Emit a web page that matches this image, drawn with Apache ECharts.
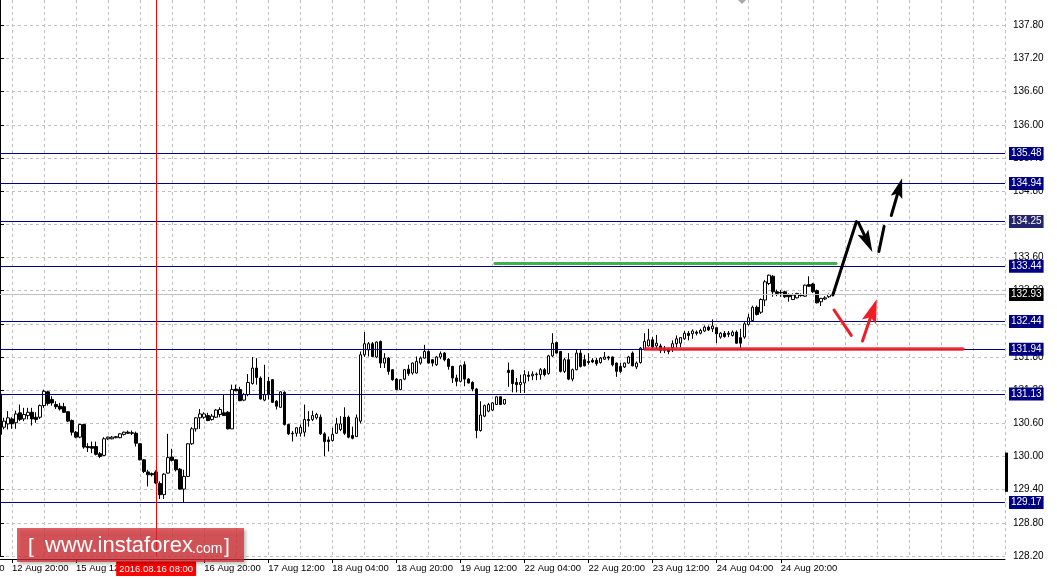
<!DOCTYPE html>
<html>
<head>
<meta charset="utf-8">
<script src="https://cdn.jsdelivr.net/npm/echarts@6/dist/echarts.min.js"></script>
<style>
html,body{margin:0;padding:0;background:#fff;}
#c{width:1057px;height:579px;}
</style>
</head>
<body>
<div id="c"></div>
<script>
// ---- categories (hourly bars, weekends skipped) ----
const dayNames = ['12 Aug','15 Aug','16 Aug','17 Aug','18 Aug','19 Aug','22 Aug','23 Aug','24 Aug','25 Aug','26 Aug','29 Aug'];
const firstHour = 17;
const categoryCount = 252;
const categories = [];
for (let d = 0; categories.length < categoryCount; d++) {
  for (let h = (d === 0 ? firstHour : 0); h < 24 && categories.length < categoryCount; h++) {
    categories.push(dayNames[d] + ' ' + String(h).padStart(2, '0') + ':00');
  }
}

// ---- OHLC values ----
const openVals = [
131.13,130.53,130.59,130.68,130.61,130.79,130.68,130.74,130.80,130.71,
130.71,130.92,131.17,131.03,130.94,130.91,130.90,130.81,130.65,130.44,
130.35,130.58,130.18,130.18,130.18,130.05,130.02,130.32,130.32,130.34,
130.34,130.40,130.44,130.43,130.42,130.23,129.94,129.72,129.69,129.72,
129.51,129.31,129.70,129.99,129.94,129.77,129.41,129.64,130.23,130.50,
130.70,130.71,130.74,130.67,130.71,130.76,130.79,130.80,130.50,131.22,
131.21,131.02,131.12,131.32,131.60,131.42,131.02,131.36,131.39,131.00,
130.89,131.16,130.58,130.42,130.42,130.42,130.44,130.67,130.67,130.70,
130.71,130.41,130.30,130.29,130.42,130.49,130.71,130.71,130.38,130.36,
130.64,131.84,131.93,132.04,131.80,132.08,131.69,131.78,131.57,131.40,
131.21,131.40,131.58,131.51,131.51,131.69,131.78,131.90,131.75,131.66,
131.80,131.87,131.76,131.63,131.42,131.36,131.66,131.40,131.34,131.22,
130.47,130.73,130.82,130.84,130.94,131.08,130.95,131.56,131.56,131.34,
131.30,131.33,131.47,131.46,131.49,131.48,131.57,131.50,131.82,132.06,
131.90,131.54,131.75,131.40,131.57,131.87,131.75,131.72,131.74,131.74,
131.70,131.76,131.80,131.80,131.69,131.63,131.62,131.69,131.87,131.62,
131.70,131.94,132.00,132.11,132.00,132.00,131.96,131.94,131.97,132.04,
132.05,132.13,132.23,132.22,132.25,132.23,132.27,132.34,132.31,132.33,
132.16,132.23,132.23,132.19,132.25,132.15,132.16,132.39,132.46,132.70,
132.61,132.83,133.13,133.26,132.98,132.97,132.98,132.92,132.84,132.87,
132.92,132.90,133.11,133.12,133.00,132.80,132.85,132.89
];
const highVals = [
131.14,130.70,130.82,130.71,130.83,130.94,130.88,130.88,130.88,130.80,
130.94,131.21,131.19,131.09,131.00,130.97,130.97,130.82,130.67,130.46,
130.59,130.59,130.24,130.27,130.27,130.08,130.35,130.36,130.37,130.37,
130.42,130.45,130.47,130.47,130.45,130.24,129.95,129.76,129.71,129.75,
129.55,129.70,130.41,130.14,129.95,129.79,129.76,130.24,130.53,130.71,
130.86,130.80,130.79,130.77,130.86,130.89,131.13,130.82,131.30,131.30,
131.26,131.15,131.49,131.80,131.78,131.45,131.66,131.44,131.40,131.02,
131.18,131.18,130.59,130.46,130.53,130.58,130.94,130.82,130.83,130.79,
130.76,130.44,130.36,130.52,130.70,130.73,130.89,130.74,130.54,130.76,
131.90,132.25,132.07,132.07,132.08,132.10,131.87,131.80,131.58,131.42,
131.40,131.58,131.66,131.70,131.81,131.81,132.02,131.92,131.76,131.82,
131.90,131.89,131.78,131.64,131.48,131.66,131.72,131.42,131.36,131.24,
131.00,130.94,130.97,130.98,131.09,131.09,131.04,131.70,131.57,131.42,
131.48,131.56,131.54,131.54,131.52,131.60,131.60,131.84,132.23,132.08,
131.91,131.78,131.87,131.59,131.93,131.93,131.84,131.87,131.78,131.78,
131.80,131.89,131.82,131.81,131.70,131.69,131.70,131.82,131.90,131.72,
131.98,132.23,132.31,132.16,132.20,132.04,132.00,131.97,132.10,132.19,
132.16,132.27,132.27,132.30,132.28,132.31,132.37,132.37,132.48,132.34,
132.25,132.27,132.27,132.28,132.28,132.31,132.43,132.58,132.73,132.73,
132.86,133.19,133.29,133.28,133.02,133.01,133.00,132.95,132.95,132.96,
132.95,133.11,133.26,133.14,133.02,132.87,132.90,132.95
];
const lowVals = [
130.35,130.49,130.49,130.50,130.50,130.64,130.64,130.67,130.56,130.61,
130.68,130.88,130.92,130.92,130.86,130.83,130.79,130.62,130.38,130.33,
130.33,130.14,130.08,130.06,130.02,129.97,130.01,130.30,130.31,130.33,
130.33,130.38,130.41,130.39,130.18,129.93,129.70,129.46,129.64,129.50,
129.23,129.23,129.69,129.91,129.73,129.40,129.17,129.63,130.21,130.45,
130.50,130.68,130.64,130.65,130.70,130.71,130.74,130.49,130.50,131.18,
131.00,131.00,131.09,131.30,131.30,131.03,131.00,131.03,130.97,130.85,
130.88,130.56,130.39,130.27,130.36,130.36,130.36,130.54,130.64,130.67,
130.39,130.01,130.09,130.27,130.41,130.46,130.39,130.33,130.31,130.36,
130.60,131.80,131.81,131.80,131.78,131.60,131.60,131.48,131.37,131.20,
131.20,131.38,131.46,131.48,131.50,131.66,131.77,131.68,131.63,131.64,
131.76,131.72,131.57,131.33,131.27,131.34,131.27,131.32,131.18,130.33,
130.45,130.71,130.80,130.82,130.93,130.93,130.94,131.26,131.16,131.16,
131.15,131.15,131.36,131.38,131.38,131.39,131.45,131.48,131.80,131.86,
131.52,131.51,131.38,131.36,131.56,131.61,131.63,131.66,131.69,131.64,
131.68,131.75,131.74,131.63,131.44,131.51,131.60,131.68,131.63,131.58,
131.68,131.92,131.99,131.96,131.93,131.87,131.87,131.85,131.89,131.97,
131.97,132.11,132.10,132.13,132.19,132.21,132.25,132.27,132.25,132.05,
132.13,132.15,132.16,132.17,132.04,131.95,132.13,132.37,132.45,132.55,
132.58,132.72,133.10,132.89,132.90,132.89,132.87,132.80,132.83,132.86,
132.89,132.89,133.07,132.96,132.77,132.72,132.83,132.87
];
const closeVals = [
130.40,130.64,130.70,130.59,130.77,130.67,130.76,130.80,130.68,130.67,
130.92,131.18,130.96,130.97,130.90,130.86,130.80,130.64,130.44,130.35,
130.58,130.17,130.16,130.15,130.04,130.00,130.32,130.35,130.35,130.36,
130.41,130.44,130.42,130.42,130.24,129.94,129.73,129.67,129.67,129.52,
129.31,129.68,129.98,129.93,129.76,129.41,129.64,130.23,130.50,130.70,
130.77,130.77,130.65,130.73,130.84,130.85,130.74,130.50,131.21,131.19,
131.01,131.12,131.34,131.60,131.43,131.04,131.12,131.12,130.98,130.91,
131.17,130.58,130.41,130.41,130.52,130.53,130.67,130.65,130.74,130.76,
130.41,130.27,130.27,130.40,130.59,130.59,130.42,130.35,130.33,130.70,
131.84,132.04,132.04,131.81,132.07,131.69,131.78,131.54,131.39,131.21,
131.39,131.57,131.50,131.69,131.72,131.78,131.90,131.69,131.69,131.80,
131.86,131.75,131.63,131.42,131.36,131.64,131.40,131.33,131.22,130.47,
130.75,130.92,130.94,130.97,131.08,130.94,131.03,131.52,131.32,131.30,
131.34,131.48,131.45,131.49,131.48,131.57,131.48,131.82,132.05,131.87,
131.54,131.75,131.40,131.57,131.87,131.63,131.64,131.70,131.71,131.68,
131.78,131.80,131.78,131.66,131.54,131.54,131.69,131.80,131.64,131.69,
131.96,132.08,132.11,131.98,132.05,131.92,131.92,131.90,132.04,132.13,
132.15,132.23,132.19,132.27,132.23,132.28,132.34,132.29,132.36,132.22,
132.23,132.17,132.21,132.25,132.05,132.05,132.40,132.51,132.70,132.57,
132.84,133.16,133.28,132.98,132.95,132.96,132.89,132.89,132.92,132.95,
132.91,133.10,133.08,132.98,132.78,132.86,132.87,132.93
];

// ---- y axis ----
const yMin = 128.20, yMax = 138.258, yStep = 0.60;

// ---- horizontal levels ----
const levelValues = [135.48, 134.94, 134.25, 133.44, 132.44, 131.94, 131.13, 129.17];
const levelBoxColors = ['#000080','#000080','#24246c','#000080','#000080','#000080','#000080','#000080'];
const currentPrice = 132.93;

// ---- crosshair ----
const crosshairIndex = 39;
const crosshairText = '2016.08.16 08:00';

// ---- drawn annotations (bar index, price) ----
const greenLevel = [[123.6, 133.50], [208.8, 133.50]];
const redLevel = [[161.1, 131.95], [240.5, 131.95]];
const blackUp = [[208.0, 132.92], [213.9, 134.25]];
const blackBackArrow = [[214.4, 134.23], [216.7, 133.88]];
const blackDash = [[219.5, 133.71], [220.8, 134.16]];
const blackUpArrow = [[222.6, 134.36], [224.6, 134.86]];
const redDown = [[208.3, 132.65], [212.6, 132.19]];
const redUpArrow = [[215.4, 132.09], [218.0, 132.64]];

const FONT = "'Liberation Sans', Arial, sans-serif";
const ARROW = 'path://M5,0 L10,20 L5,16 L0,20 Z';
const lastDataIndex = openVals.length - 1;
const showLabel = (i) => (i - 3) % 16 === 0 && i <= lastDataIndex && i !== 35;

const candleData = openVals.map((o, i) => [o, closeVals[i], lowVals[i], highVals[i]]);

const levelMarks = levelValues.map((v, k) => ({
  yAxis: v,
  lineStyle: { color: '#000080', width: 1, type: 'solid' },
  label: { backgroundColor: levelBoxColors[k] }
}));
levelMarks.push({
  yAxis: currentPrice,
  lineStyle: { color: '#c0c0c0', width: 1, type: 'solid' },
  label: { backgroundColor: '#000000' }
});
levelMarks.push({
  xAxis: categories[crosshairIndex],
  lineStyle: { color: '#ff0000', width: 1, type: 'solid' },
  label: { show: false }
});

function seg(pts, color, width, arrow, head) {
  const end = { coord: pts[1] };
  if (arrow) { end.symbol = ARROW; end.symbolSize = head; end.itemStyle = { color: color }; }
  return [
    { coord: pts[0], symbol: 'none', itemStyle: { color: color }, lineStyle: { color: color, width: width, type: 'solid', cap: 'round' } },
    end
  ];
}

const annotationMarks = [
  seg(greenLevel, 'rgba(40,170,60,0.9)', 3, false),
  seg(redLevel, 'rgba(238,30,40,0.9)', 3.5, false),
  seg(blackUp, '#000', 3, false),
  seg(blackBackArrow, '#000', 3, true, [12, 22]),
  seg(blackDash, '#000', 3, false),
  seg(blackUpArrow, '#000', 3, true, [12, 20]),
  seg(redDown, '#ee1c25', 3, false),
  seg(redUpArrow, '#ee1c25', 3, true, [15, 24])
];

const chart = echarts.init(document.getElementById('c'), null, { renderer: 'canvas' });

chart.setOption({
  animation: false,
  backgroundColor: '#ffffff',
  grid: { left: 0, top: 0, width: 1005, height: 556, containLabel: false },
  xAxis: [
    {
      type: 'category',
      data: categories,
      boundaryGap: false,
      offset: 3,
      axisLine: { show: true, lineStyle: { color: '#000', width: 1 } },
      axisTick: { show: true, length: 4, interval: showLabel, lineStyle: { color: '#000' } },
      axisLabel: {
        show: true, interval: showLabel, align: 'left', margin: 4,
        color: '#000', fontSize: 9.5, fontFamily: FONT,
        formatter: (v) => v
      },
      splitLine: { show: true, interval: (i) => i % 8 === 3, lineStyle: { color: '#c0c0c0', width: 1, type: [3, 3] } }
    },
    { type: 'value', min: 0, max: categoryCount - 1, show: false }
  ],
  yAxis: {
    type: 'value',
    position: 'right',
    min: yMin, max: yMax, interval: yStep,
    scale: true,
    axisLine: { show: true, lineStyle: { color: '#000', width: 1 } },
    axisTick: { show: true, length: 4, lineStyle: { color: '#000' } },
    axisLabel: {
      show: true, margin: 8, color: '#000', fontSize: 10, fontFamily: FONT,
      showMaxLabel: false,
      formatter: (v) => v.toFixed(2)
    },
    splitLine: { show: true, showMaxLine: false, lineStyle: { color: '#c0c0c0', width: 1, type: [3, 3] } }
  },
  series: [
    {
      type: 'candlestick',
      data: candleData,
      barWidth: 3,
      silent: true,
      itemStyle: { color: '#ffffff', color0: '#000000', borderColor: '#000000', borderColor0: '#000000', borderWidth: 1 },
      markLine: {
        silent: true,
        symbol: ['none', 'none'],
        animation: false,
        label: {
          show: true, position: 'end', distance: 4,
          color: '#ffffff', fontSize: 10, fontFamily: FONT,
          padding: [2, 2, 1, 2],
          formatter: (p) => Number(p.value).toFixed(2)
        },
        emphasis: { disabled: true },
        data: levelMarks
      }
    },
    {
      type: 'line',
      xAxisIndex: 1,
      yAxisIndex: 0,
      data: [],
      silent: true,
      markLine: {
        silent: true,
        animation: false,
        symbol: ['none', 'none'],
        label: { show: false },
        emphasis: { disabled: true },
        data: annotationMarks
      }
    }
  ]
});

// ---- overlay decorations positioned through the axes ----
const crossX = chart.convertToPixel({ xAxisIndex: 0 }, categories[crosshairIndex]);
const firstLabelX = chart.convertToPixel({ xAxisIndex: 0 }, categories[3]);
const stepX = chart.convertToPixel({ xAxisIndex: 0 }, categories[19]) - firstLabelX;
const barTop = chart.convertToPixel({ yAxisIndex: 0 }, 130.07);
const barBottom = chart.convertToPixel({ yAxisIndex: 0 }, 129.36);

chart.setOption({
  graphic: [
    { type: 'text', z: 50, x: firstLabelX - stepX, y: 563,
      style: { text: '12 Aug 04:00', fill: '#000', font: '9.5px ' + FONT } },
    { type: 'rect', z: 50, shape: { x: 1005, y: barTop, width: 3, height: barBottom - barTop },
      style: { fill: '#000' } },
    { type: 'polygon', z: 50, shape: { points: [[738, 0], [746, 0], [742, 4]] }, style: { fill: '#a8a8a8' } },
    { type: 'text', z: 60, x: crossX, y: 561,
      style: { text: crosshairText, fill: '#fff', font: '9.5px ' + FONT, align: 'center', verticalAlign: 'top',
               backgroundColor: '#ff0000', padding: [3, 3, 2, 3] } },
    { type: 'rect', z: 70, shape: { x: 17, y: 528, width: 227, height: 34 },
      style: { fill: 'rgba(215,45,50,0.74)', shadowColor: 'rgba(0,0,0,0.35)', shadowBlur: 3, shadowOffsetX: 2, shadowOffsetY: 2 } },
    { type: 'text', z: 71, x: 28, y: 547,
      style: { text: '[', fill: '#fff', font: '21px ' + FONT, verticalAlign: 'middle' } },
    { type: 'text', z: 71, x: 45, y: 546,
      style: { text: 'www.instaforex', fill: '#fff', font: '22px ' + FONT, verticalAlign: 'middle' } },
    { type: 'text', z: 71, x: 192, y: 549,
      style: { text: '.com', fill: '#fff', font: '14px ' + FONT, verticalAlign: 'middle' } },
    { type: 'text', z: 71, x: 224, y: 547,
      style: { text: ']', fill: '#fff', font: '21px ' + FONT, verticalAlign: 'middle' } }
  ]
});
</script>
</body>
</html>
